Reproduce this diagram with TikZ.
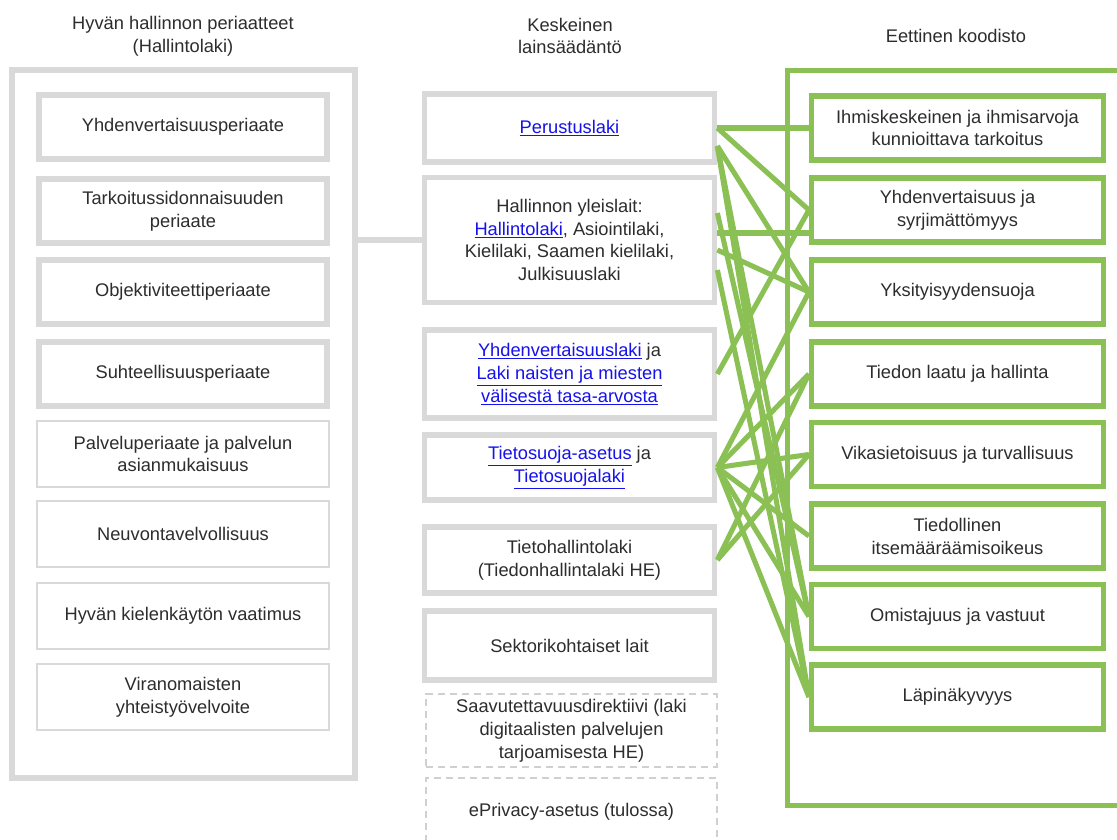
\documentclass[tikz,border=0pt]{standalone}
\usepackage{fontspec}
\setmainfont{Liberation Sans}
\usepackage{xcolor}
\usetikzlibrary{
    calc,
    positioning
}
\definecolor{boxgray}{RGB}{217,217,217}
\definecolor{dashgray}{RGB}{208,208,208}
\definecolor{linkblue}{RGB}{22,18,235}
\definecolor{ethgreen}{RGB}{139,193,84}
\definecolor{txtgray}{RGB}{45,45,45}
\newcommand{\lnk}[1]{\textcolor{linkblue}{\underline{#1}}}
\tikzset{
  txt/.style     = {font=\fontsize{13}{16.3}\selectfont, text=txtgray, align=center},
  gbox/.style    = {txt, draw=boxgray, line width=4pt, minimum width=7.2cm,
                    minimum height=1.6cm},
  tbox/.style    = {txt, draw=boxgray, line width=1.8pt, minimum width=7.3cm,
                    minimum height=1.65cm},
  dbox/.style    = {txt, draw=dashgray, line width=1.4pt, dash pattern=on 5pt off 3.5pt,
                    minimum width=7.25cm, minimum height=1.65cm},
  ebox/.style    = {txt, draw=ethgreen, line width=3.6pt, minimum width=7.3cm,
                    minimum height=1.6cm}
}

\begin{document}
\begin{tikzpicture}[
  x=0.025cm, y=-0.025cm,
  link/.style={ethgreen, line width=3.6pt},
  grayline/.style={boxgray, line width=4pt}
]
\useasboundingbox (0,0) rectangle (1117,840);
\fill[white] (0,0) rectangle (1117,840);
\clip (0,0) rectangle (1117,840);

% column titles
\node[txt] (t-per) at (183,36) {Hyvän hallinnon periaatteet\\(Hallintolaki)};
\node[txt] (t-lak) at (570,36) {Keskeinen\\lainsäädäntö};
\node[txt] (t-koo) at (956,36) {Eettinen koodisto};

% outer frames
\node[draw=boxgray, line width=4pt, minimum width=8.575cm, minimum height=17.7cm]
  (periaatteet) at (183.5,424) {};
\node[draw=ethgreen, line width=3.6pt, minimum width=8.8cm, minimum height=18.35cm]
  (koodisto) at (964,438) {};

% hyvan hallinnon periaatteet
\node[gbox] (yp) at (183,127) {Yhdenvertaisuusperiaate};
\node[gbox] (tp) at (183,211) {Tarkoitussidonnaisuuden\\periaate};
\node[gbox] (op) at (183,292) {Objektiviteettiperiaate};
\node[gbox] (sp) at (183,374) {Suhteellisuusperiaate};
\node[tbox] (pp) at (183,454) {Palveluperiaate ja palvelun\\asianmukaisuus};
\node[tbox] (np) at (183,534) {Neuvontavelvollisuus};
\node[tbox] (hk) at (183,616) {Hyvän kielenkäytön vaatimus};
\node[tbox] (vy) at (183,697) {Viranomaisten\\yhteistyövelvoite};

% keskeinen lainsaadanto
\node[gbox, minimum width=7.25cm, minimum height=1.7cm] (per) at (569.5,128) {\lnk{Perustuslaki}};
\node[gbox, minimum width=7.25cm, minimum height=3.125cm] (hal) at (569.5,240)
  {Hallinnon yleislait:\\\lnk{Hallintolaki}, Asiointilaki,\\Kielilaki, Saamen kielilaki,\\Julkisuuslaki};
\node[gbox, minimum width=7.25cm, minimum height=2.2cm] (yvl) at (569.5,374)
  {\lnk{Yhdenvertaisuuslaki} ja\\\lnk{Laki naisten ja miesten}\\\lnk{välisestä tasa-arvosta}};
\node[gbox, minimum width=7.25cm, minimum height=1.625cm] (tsa) at (569.5,467.5)
  {\lnk{Tietosuoja-asetus} ja\\\lnk{Tietosuojalaki}};
\node[gbox, minimum width=7.25cm, minimum height=1.65cm] (thl) at (569.5,560)
  {Tietohallintolaki\\(Tiedonhallintalaki HE)};
\node[gbox, minimum width=7.25cm, minimum height=1.725cm] (sek) at (569.5,645.5) {Sektorikohtaiset lait};
\node[dbox, minimum height=1.675cm] (saa) at (571.5,730.5)
  {Saavutettavuusdirektiivi (laki\\digitaalisten palvelujen\\tarjoamisesta HE)};
\node[dbox, minimum height=1.7cm] (epr) at (571.5,812) {ePrivacy-asetus (tulossa)};

% eettinen koodisto
\node[ebox] (ihm) at (957.5,128) {Ihmiskeskeinen ja ihmisarvoja\\kunnioittava tarkoitus};
\node[ebox] (yv)  at (957.5,210) {Yhdenvertaisuus ja\\syrjimättömyys};
\node[ebox] (yk)  at (957.5,292) {Yksityisyydensuoja};
\node[ebox] (tl)  at (957.5,374) {Tiedon laatu ja hallinta};
\node[ebox] (vik) at (957.5,454.5) {Vikasietoisuus ja turvallisuus};
\node[ebox] (tie) at (957.5,536) {Tiedollinen\\itsemääräämisoikeus};
\node[ebox] (omi) at (957.5,616.5) {Omistajuus ja vastuut};
\node[ebox] (lap) at (957.5,697) {Läpinäkyvyys};

% ports
\coordinate (per-b) at ($(per.east)+(0,18)$);
\coordinate (hal-a) at ($(hal.east)+(0,-27)$);
\coordinate (hal-b) at ($(hal.east)+(0,-7)$);
\coordinate (hal-c) at ($(hal.east)+(0,10)$);
\coordinate (hal-d) at ($(hal.east)+(0,30)$);
\coordinate (yv-b)  at ($(yv.west)+(0,23)$);

\draw[grayline] (periaatteet.east |- hal.west) -- (hal.west);

\draw[link] (per.east) -- (ihm.west);
\draw[link] (per.east) -- (yv.west);
\draw[link] (per-b) -- (yk.west);
\draw[link] (per-b) -- (omi.west);
\draw[link] (per-b) -- (lap.west);
\draw[link] (hal-a) -- (omi.west);
\draw[link] (hal-b) -- (yv-b);
\draw[link] (hal-c) -- (yk.west);
\draw[link] (hal-d) -- (lap.west);
\draw[link] (yvl.east) -- (yv.west);
\draw[link] (tsa.east) -- (yk.west);
\draw[link] (tsa.east) -- (tl.west);
\draw[link] (tsa.east) -- (vik.west);
\draw[link] (tsa.east) -- (tie.west);
\draw[link] (tsa.east) -- (omi.west);
\draw[link] (tsa.east) -- (lap.west);
\draw[link] (thl.east) -- (tl.west);
\draw[link] (thl.east) -- (vik.west);

\end{tikzpicture}
\end{document}
